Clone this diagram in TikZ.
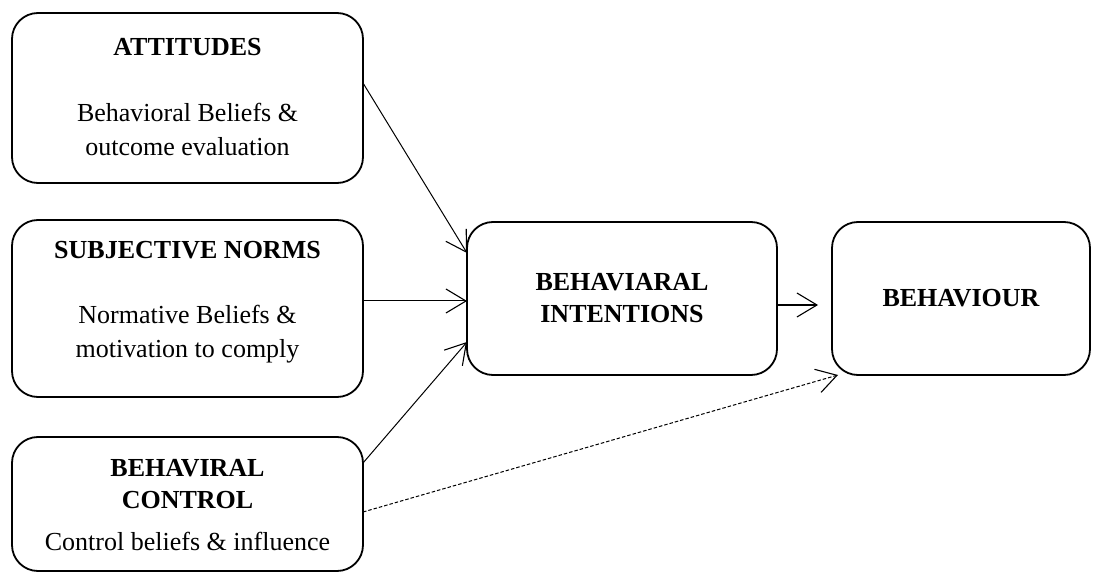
\documentclass[tikz,border=0pt]{standalone}
\usepackage{fontspec}
\setmainfont{Liberation Serif}
\usetikzlibrary{arrows.meta}
\begin{document}
\begin{tikzpicture}[x=1pt,y=-1pt]
\tikzset{
 box/.style={draw, line width=1.8pt, rounded corners=26pt, inner sep=0pt, outer sep=0pt},
 head/.style={font=\fontsize{26}{32}\selectfont\bfseries, align=center, inner sep=0pt},
 body/.style={font=\fontsize{26}{34}\selectfont, align=center, inner sep=0pt},
 conn/.style={line width=1pt, -{Straight Barb[length=20pt,width=24pt,line width=1.1pt]}},
 dconn/.style={conn, dash pattern=on 3.5pt off 2pt}
}
\useasboundingbox (0,0) rectangle (1101,572);
% boxes
\node[box, minimum width=351pt, minimum height=170pt] (att) at (187.5,98) {};
\node[box, minimum width=351pt, minimum height=177pt] (sub) at (187.5,308.5) {};
\node[box, minimum width=351pt, minimum height=134pt] (ctl) at (187.5,504) {};
\node[box, minimum width=310pt, minimum height=153pt] (int) at (622,298.5) {};
\node[box, minimum width=258pt, minimum height=153pt] (beh) at (961,298.5) {};
% texts
\node[head] (attH) at (187.5,47) {ATTITUDES};
\node[body] (attB) at (187.5,129) {Behavioral Beliefs \&\\outcome evaluation};
\node[head] (subH) at (187.5,250) {SUBJECTIVE NORMS};
\node[body] (subB) at (187.5,334.5) {Normative Beliefs \&\\motivation to comply};
\node[head] (ctlH) at (187.5,484) {BEHAVIRAL\\CONTROL};
\node[body] (ctlB) at (187.5,541) {Control beliefs \& influence};
\node[head] (intH) at (622,298.5) {BEHAVIARAL\\INTENTIONS};
\node[head] (behH) at (961,298) {BEHAVIOUR};
% connectors
\draw[conn] ([yshift=15pt]att.east) -- ([yshift=45.5pt]int.west);
\draw[conn] ([yshift=7.5pt]sub.east) -- ([yshift=-2.5pt]int.west);
\draw[conn] ([yshift=41pt]ctl.east) -- ([yshift=-43.5pt]int.west);
\draw[conn] ([yshift=-6.5pt]int.east) -- ([xshift=-14pt,yshift=-6.5pt]beh.west);
\draw[dconn] ([yshift=-8pt]ctl.east) -- ([xshift=6pt]beh.south west);
\end{tikzpicture}
\end{document}
